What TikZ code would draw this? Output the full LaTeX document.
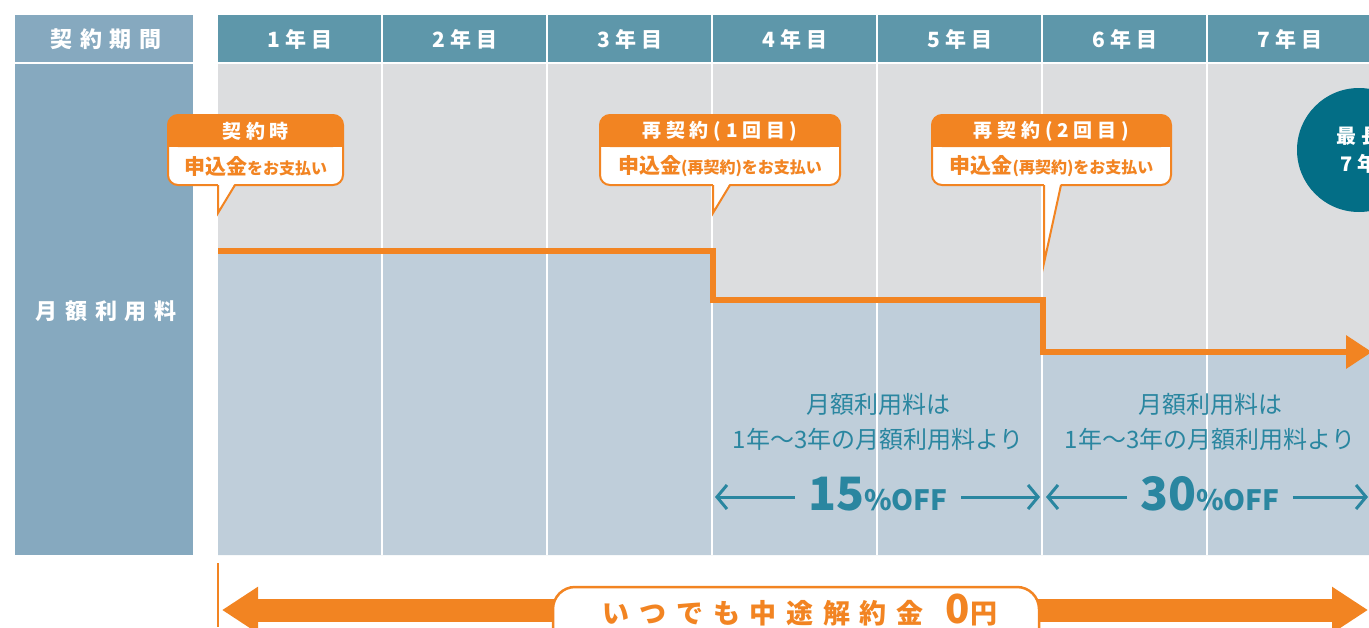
\documentclass[tikz,border=0pt]{standalone}
\usepackage{fontspec}
\setmainfont{Noto Sans CJK JP}
\newfontfamily\widejp[LetterSpace=25]{Noto Sans CJK JP}
\newfontfamily\widerjp[LetterSpace=36]{Noto Sans CJK JP}
\usetikzlibrary{arrows.meta}
\definecolor{termblue}{HTML}{86A9BF}
\definecolor{yearteal}{HTML}{5E97AA}
\definecolor{cellgrey}{HTML}{DCDDDF}
\definecolor{feeblue}{HTML}{BFCEDA}
\definecolor{planorange}{HTML}{F28422}
\definecolor{offteal}{HTML}{2A86A0}
\definecolor{maxteal}{HTML}{036E86}

\begin{document}
\begin{tikzpicture}[x=1pt, y=-1pt,
    head/.style={text=white, font=\widejp\bfseries\fontsize{21}{21}\selectfont},
    sidehead/.style={text=white, font=\widerjp\bfseries\fontsize{22}{22}\selectfont},
    bubblehead/.style={text=white, font=\widejp\bfseries\fontsize{19}{19}\selectfont},
    bubbletext/.style={text=planorange, font=\bfseries\fontsize{16}{16}\selectfont},
    note/.style={text=offteal, align=center, font=\fontsize{24}{35}\selectfont},
    offnum/.style={text=offteal, font=\bfseries, inner xsep=13, anchor=base},
    offarrow/.style={draw=offteal, line width=3, -{Straight Barb[length=10pt,width=24pt]}},
    feeline/.style={draw=planorange, line width=6.5, -{Triangle[length=26pt,width=32pt]}},
    bubble/.style={fill=white, draw=planorange, line width=2, rounded corners=10}
  ]
    \useasboundingbox (0,0) rectangle (1369,627);
    \clip (0,0) rectangle (1369,627);

    \fill[termblue] (15,15) rectangle (193,62);
    \fill[termblue] (15,64) rectangle (193,555);
    \node[sidehead] (term) at (106,39) {契約期間};
    \node[sidehead] (fee) at (106,311) {月額利用料};

    \fill[yearteal] (218,15) rectangle (1369,62);
    \fill[cellgrey] (218,64) rectangle (1369,555);
    \fill[feeblue] (218,251) -| (713,300) -| (1043,352) -| (1369,555) -- (218,555) -- cycle;
    \foreach \x in {382,547,...,1207}
        \draw[white, line width=2] (\x,15) -- (\x,555);
    \foreach \i in {1,...,7}
        \node[head] (year\i) at ({218+165*(\i-1)+82},39) {\i 年目};

    \coordinate (s0) at (218,251);
    \coordinate (s1) at (713,300);
    \coordinate (s2) at (1043,352);
    \coordinate (s3) at (1372,352);
    \draw[feeline] (s0) -| (s1) -| (s2) -- (s3);

    \foreach \n/\l/\r/\tx/\ty/\hd/\bd in {
        1/168/343/218/213/{契約時}/{{\fontsize{21}{21}\selectfont 申込金}をお支払い},
        2/600/840/713/213/{再契約(1回目)}/{{\fontsize{21}{21}\selectfont 申込金}{\fontsize{16}{16}\selectfont (再契約)}をお支払い},
        3/932/1171/1044/263/{再契約(2回目)}/{{\fontsize{21}{21}\selectfont 申込金}{\fontsize{16}{16}\selectfont (再契約)}をお支払い}}
    {
        \filldraw[bubble] (\l,115) rectangle (\r,185);
        \fill[planorange, rounded corners=10] (\l,115) rectangle (\r,147);
        \fill[planorange] (\l,135) rectangle (\r,147);
        \coordinate (tip\n) at (\tx,\ty);
        \fill[white] (\tx,183) -- (tip\n) -- (\tx+17,183) -- cycle;
        \draw[planorange, line width=2] (\tx,185) -- (tip\n) -- (\tx+17,185);
        \node[bubblehead] (head\n) at ({(\l+\r)/2},131) {\hd};
        \node[bubbletext] (pay\n) at ({(\l+\r)/2},166) {\bd};
    }

    \node[circle, fill=maxteal, minimum size=124, inner sep=0, text=white, align=center,
        font=\widejp\bfseries\fontsize{20}{28}\selectfont] (max) at (1359,150) {最長\\7年};

    \foreach \n/\cx/\num/\lx/\rx in {4/878/15/715/1040, 6/1210/30/1046/1368} {
        \node[note] (note\n) at (\cx,422) {月額利用料は\\1年～3年の月額利用料より};
        \node[offnum] (off\n) at (\cx,510) {\fontsize{46}{46}\selectfont \num\fontsize{28}{28}\selectfont\%OFF};
        \coordinate (l\n) at (\lx,497);
        \coordinate (r\n) at (\rx,497);
        \draw[offarrow] (l\n -| off\n.west) -- (l\n);
        \draw[offarrow] (r\n -| off\n.east) -- (r\n);
    }

    \draw[planorange, line width=2] (218,563) -- (218,627);
    \coordinate (cl) at (222,610);
    \coordinate (cr) at (1368,610);
    \draw[planorange, line width=23, {Triangle[length=36pt,width=44pt]}-{Triangle[length=36pt,width=44pt]}] (cl) -- (cr);
    \node[draw=planorange, fill=white, line width=2.5, rounded corners=22, minimum width=486, minimum height=64] (zero) at (796,619) {};
    \node[text=planorange, anchor=base, font=\widerjp\bfseries\fontsize{27}{27}\selectfont] (zerotext) at (800,623)
        {いつでも中途解約金\hspace{22pt}{\fontsize{40}{40}\selectfont 0}円};
\end{tikzpicture}
\end{document}
